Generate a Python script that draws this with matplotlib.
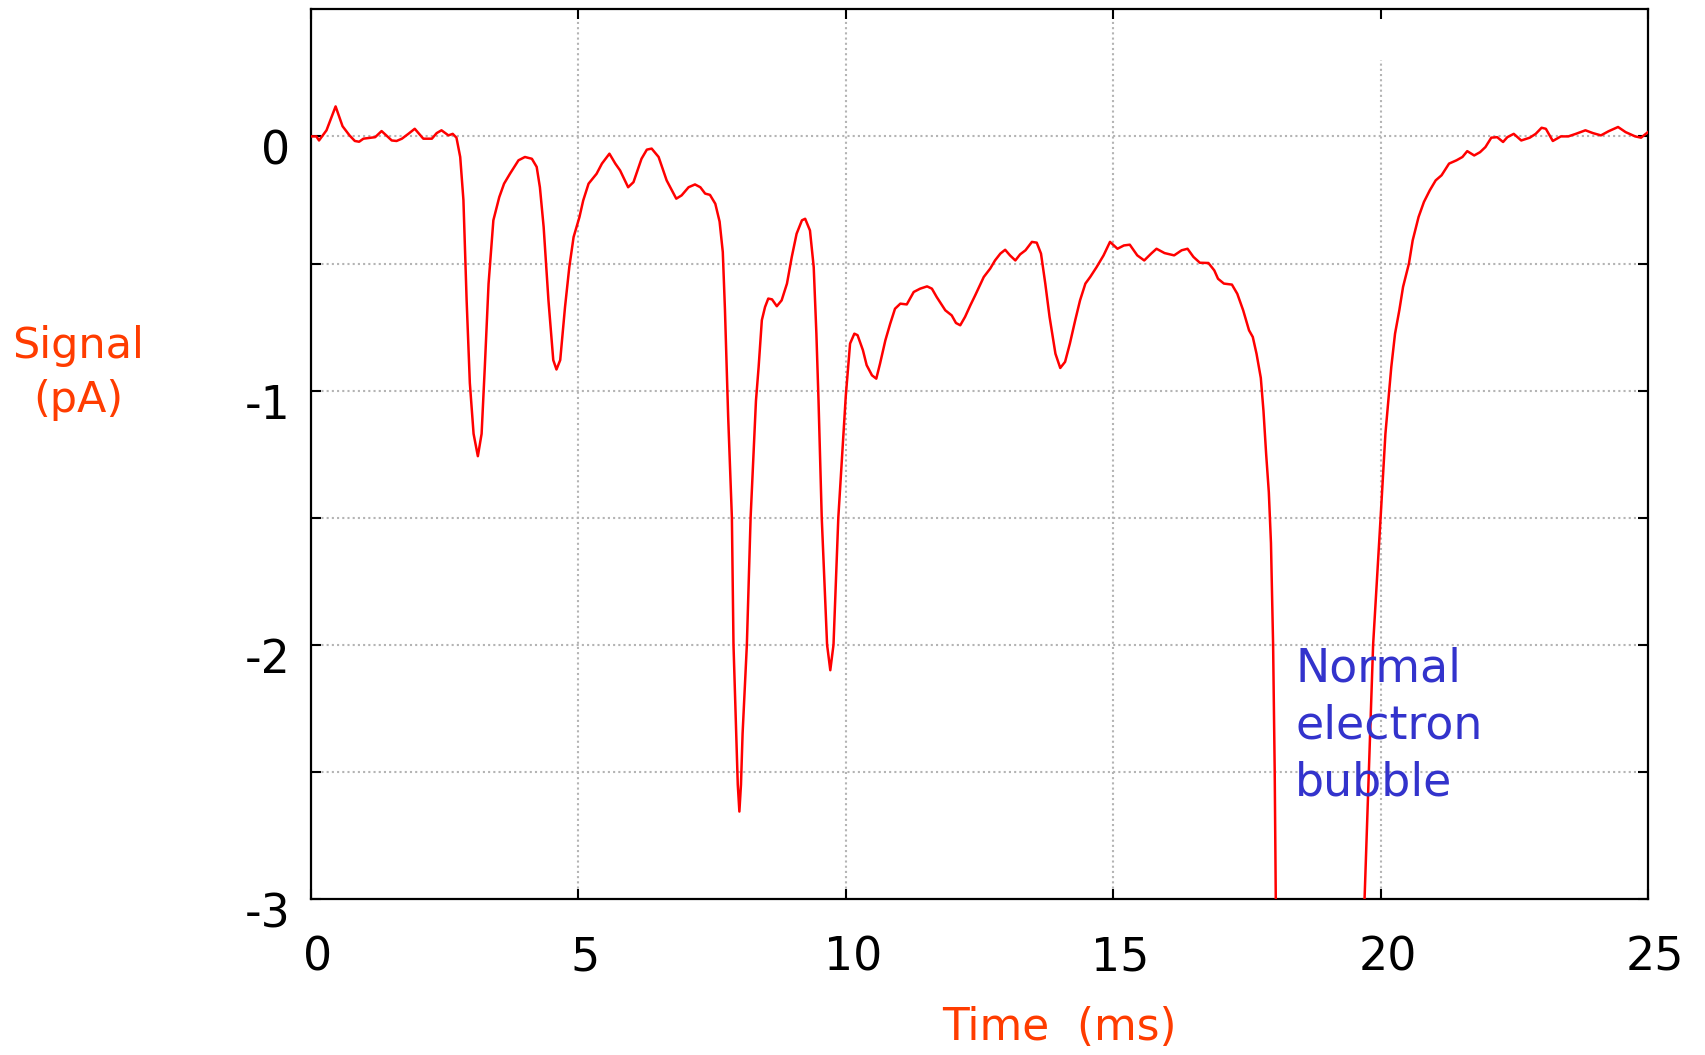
import matplotlib
matplotlib.use("Agg")
import matplotlib.pyplot as plt
import matplotlib.transforms as mtransforms

plt.rcParams['axes.unicode_minus'] = False

# current trace (time in ms, signal in pA)
time_ms = [0.00, 0.10, 0.15, 0.29, 0.46, 0.59, 0.72, 0.82, 0.90, 0.98,
           1.20, 1.32, 1.51, 1.60, 1.70, 1.82, 1.94, 2.10, 2.26, 2.35,
           2.44, 2.57, 2.65, 2.72, 2.79, 2.85, 2.91, 2.97, 3.04, 3.12,
           3.19, 3.25, 3.32, 3.41, 3.52, 3.61, 3.72, 3.88, 4.00, 4.13,
           4.22, 4.28, 4.35, 4.44, 4.53, 4.59, 4.66, 4.75, 4.83, 4.91,
           5.02, 5.09, 5.19, 5.34, 5.44, 5.58, 5.69, 5.78, 5.93, 6.03,
           6.18, 6.28, 6.37, 6.50, 6.65, 6.83, 6.93, 7.06, 7.18, 7.28,
           7.37, 7.46, 7.56, 7.64, 7.70, 7.74, 7.80, 7.87, 7.90, 7.95,
           7.98, 8.01, 8.04, 8.07, 8.15, 8.22, 8.32, 8.37, 8.43, 8.49,
           8.55, 8.62, 8.71, 8.80, 8.90, 8.99, 9.08, 9.18, 9.24, 9.33,
           9.40, 9.45, 9.49, 9.55, 9.65, 9.71, 9.77, 9.86, 10.00, 10.08,
           10.16, 10.22, 10.32, 10.39, 10.49, 10.57, 10.64, 10.74, 10.83, 10.92,
           11.02, 11.14, 11.27, 11.39, 11.52, 11.61, 11.70, 11.86, 11.98, 12.06,
           12.14, 12.23, 12.33, 12.42, 12.58, 12.70, 12.79, 12.89, 12.98, 13.07,
           13.17, 13.26, 13.36, 13.48, 13.57, 13.65, 13.73, 13.81, 13.92, 14.01,
           14.10, 14.19, 14.29, 14.38, 14.48, 14.57, 14.69, 14.82, 14.94, 15.08,
           15.20, 15.31, 15.45, 15.58, 15.71, 15.81, 15.96, 16.14, 16.28, 16.39,
           16.50, 16.62, 16.78, 16.89, 16.96, 17.07, 17.22, 17.32, 17.43, 17.54,
           17.61, 17.68, 17.76, 17.81, 17.86, 17.91, 17.95, 17.99, 18.02, 18.04,
           18.20, 18.90, 19.55, 19.70, 19.78, 19.86, 20.00, 20.09, 20.20, 20.27,
           20.35, 20.42, 20.53, 20.60, 20.71, 20.81, 20.92, 21.03, 21.14, 21.28,
           21.42, 21.53, 21.62, 21.75, 21.86, 21.96, 22.07, 22.18, 22.29, 22.37,
           22.49, 22.63, 22.79, 22.90, 23.01, 23.09, 23.22, 23.37, 23.51, 23.65,
           23.83, 23.97, 24.12, 24.26, 24.44, 24.58, 24.76, 24.87, 25.00]
signal_pa = [0.000, 0.000, -0.016, 0.024, 0.118, 0.040, 0.004, -0.018, -0.021, -0.009,
             -0.003, 0.021, -0.016, -0.018, -0.009, 0.010, 0.030, -0.009, -0.009, 0.013,
             0.024, 0.004, 0.010, -0.005, -0.081, -0.250, -0.645, -0.970, -1.170, -1.258,
             -1.170, -0.907, -0.580, -0.330, -0.239, -0.186, -0.147, -0.094, -0.081, -0.088,
             -0.120, -0.200, -0.356, -0.645, -0.880, -0.917, -0.880, -0.671, -0.514, -0.396,
             -0.317, -0.252, -0.186, -0.147, -0.107, -0.068, -0.107, -0.134, -0.200, -0.180,
             -0.088, -0.052, -0.048, -0.081, -0.173, -0.245, -0.232, -0.200, -0.189, -0.200,
             -0.225, -0.230, -0.265, -0.335, -0.455, -0.680, -1.100, -1.500, -2.000, -2.350,
             -2.550, -2.656, -2.550, -2.350, -2.000, -1.500, -1.040, -0.907, -0.723, -0.671,
             -0.638, -0.641, -0.668, -0.645, -0.579, -0.474, -0.383, -0.330, -0.324, -0.370,
             -0.514, -0.776, -1.040, -1.500, -2.000, -2.100, -2.000, -1.500, -1.020, -0.815,
             -0.776, -0.782, -0.841, -0.900, -0.940, -0.953, -0.894, -0.802, -0.737, -0.678,
             -0.658, -0.661, -0.612, -0.599, -0.590, -0.599, -0.632, -0.684, -0.704, -0.734,
             -0.743, -0.710, -0.664, -0.625, -0.553, -0.520, -0.488, -0.461, -0.446, -0.468,
             -0.488, -0.464, -0.448, -0.415, -0.418, -0.461, -0.579, -0.710, -0.855, -0.911,
             -0.887, -0.815, -0.723, -0.645, -0.579, -0.553, -0.514, -0.468, -0.415, -0.442,
             -0.429, -0.426, -0.468, -0.488, -0.461, -0.442, -0.459, -0.468, -0.448, -0.442,
             -0.474, -0.497, -0.498, -0.527, -0.560, -0.579, -0.583, -0.619, -0.684, -0.763,
             -0.789, -0.855, -0.950, -1.080, -1.250, -1.400, -1.600, -2.000, -2.500, -3.000,
             -3.600, -4.000, -3.600, -3.000, -2.500, -2.000, -1.500, -1.170, -0.907, -0.776,
             -0.684, -0.592, -0.500, -0.409, -0.317, -0.258, -0.212, -0.173, -0.153, -0.107,
             -0.094, -0.081, -0.058, -0.075, -0.062, -0.042, -0.005, -0.003, -0.022, -0.003,
             0.010, -0.016, -0.005, 0.010, 0.034, 0.030, -0.018, 0.000, 0.000, 0.010,
             0.024, 0.013, 0.004, 0.020, 0.037, 0.017, 0.000, -0.005, 0.017]

x_ticks = [0, 5, 10, 15, 20, 25]
y_ticks = [0, -1, -2, -3]
y_minor = [-0.5, -1.5, -2.5]

label_color = '#ff3c00'
note_color = '#3333cc'
grid_kw = dict(color='#b4b4b4', linestyle=(0, (1, 1.5)), linewidth=1.5, zorder=0)

fig = plt.figure(figsize=(17.05, 10.55), dpi=100)
ax = fig.add_axes([311/1705, 1-899/1055, (1648-311)/1705, (899-9.3)/1055])

ax.plot(time_ms, signal_pa, color='#ff0000', linewidth=1.8, zorder=3)
ax.set_xlim(0, 25)
ax.set_ylim(-3, 0.5)

# dotted grid, the 20 ms line stops short of the top
for yv in [0, -0.5, -1, -1.5, -2, -2.5]:
    ax.axhline(yv, **grid_kw)
for xv in [5, 10, 15]:
    ax.axvline(xv, **grid_kw)
ax.vlines(20, -3, 0.3, **grid_kw)

ax.set_xticks(x_ticks)
ax.set_yticks(y_ticks)
ax.set_yticks(y_minor, minor=True)
ax.tick_params(axis='both', which='both', direction='in', length=7,
               width=1.5, top=True, right=True, labelsize=33)
ax.tick_params(axis='x', pad=26)
ax.tick_params(axis='y', pad=15)
for s in ax.spines.values():
    s.set_linewidth(1.6)

# tick labels sit a bit off their ticks in the original
yshift = mtransforms.ScaledTranslation(0, -11/100, fig.dpi_scale_trans)
for lab in ax.get_yticklabels():
    lab.set_transform(lab.get_transform() + yshift)
xshift = mtransforms.ScaledTranslation(7/100, 0, fig.dpi_scale_trans)
for lab in ax.get_xticklabels():
    lab.set_transform(lab.get_transform() + xshift)

fig.text(78/1705, 1-373/1055, 'Signal\n(pA)', color=label_color, fontsize=31,
         ha='center', va='center', linespacing=1.38)
fig.text(1059/1705, 1-1028/1055, 'Time  (ms)', color=label_color, fontsize=31.5,
         ha='center', va='center')
ax.text(18.4, -2.32, 'Normal\nelectron\nbubble', color=note_color, fontsize=33,
        ha='left', va='center', linespacing=1.34, zorder=4)

fig.savefig('out.png', dpi=100)
